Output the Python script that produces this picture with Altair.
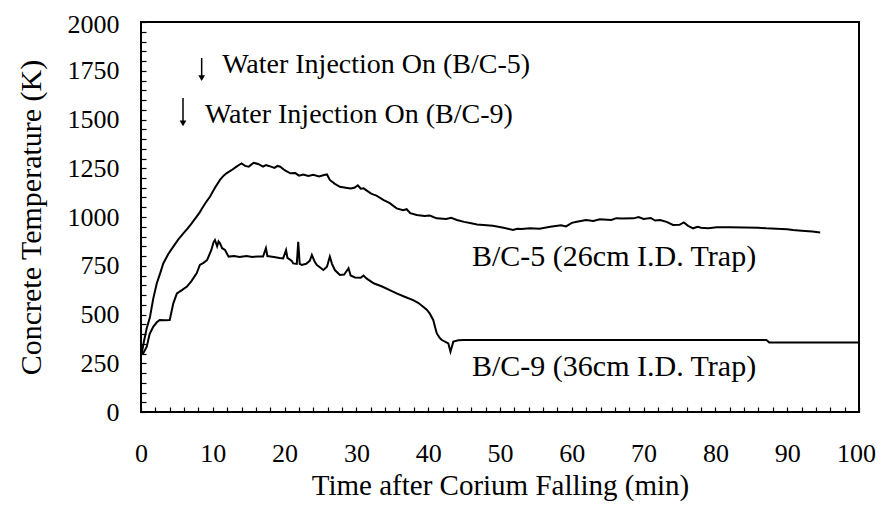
import altair as alt
import pandas as pd

# ---- data ----
bc5_t = [0.1, 0.4, 0.8, 1.25, 1.7, 2.2, 2.7, 3.1, 3.8, 4.5, 5.2, 5.9, 6.5, 7.0, 7.75, 8.2, 8.6, 9.1, 9.6,
         10.3, 11.0, 11.5, 11.9, 12.6, 13.3, 13.7, 14.0, 14.5, 15.0, 15.4, 15.7, 16.3, 17.0, 17.4, 17.8,
         18.6, 19.0, 19.4, 20.0, 20.8, 21.5, 22.0, 22.6, 23.3, 24.0, 24.8, 25.5, 25.9, 26.3, 27.0, 27.7,
         28.5, 29.2, 29.7, 30.2, 30.6, 31.0, 32.0, 32.4, 32.8, 33.8, 34.6, 35.6, 36.5, 37.0, 37.5, 38.4,
         39.5, 40.2, 40.7, 41.2, 42.5, 43.2, 44.0, 45.0, 46.0, 46.8, 47.7, 49.0, 50.5, 51.8, 52.4, 53.0,
         54.2, 55.5, 57.0, 58.5, 59.2, 60.0, 60.7, 62.0, 63.0, 63.9, 65.5, 66.2, 67.0, 68.6, 69.3, 70.0,
         71.0, 71.6, 72.3, 73.2, 74.1, 75.0, 75.6, 76.2, 76.9, 77.5, 78.0, 79.0, 80.2, 82.0, 84.0, 86.0,
         87.1, 88.5, 90.0, 90.8, 92.0, 93.5, 94.6]
bc5_v = [300, 360, 430, 487, 580, 660, 715, 762, 810, 848, 885, 916, 942, 965, 1002, 1025, 1050, 1078, 1104,
         1150, 1190, 1212, 1224, 1240, 1258, 1268, 1275, 1262, 1258, 1270, 1278, 1272, 1258, 1266, 1262,
         1252, 1262, 1258, 1240, 1224, 1225, 1212, 1218, 1210, 1216, 1208, 1215, 1218, 1190, 1170, 1155,
         1150, 1146, 1150, 1162, 1145, 1147, 1121, 1115, 1110, 1087, 1072, 1044, 1035, 1040, 1020, 1010,
         1005, 1008, 1000, 993, 990, 996, 985, 975, 968, 962, 959, 955, 945, 933, 940, 938,
         942, 940, 950, 958, 952, 970, 976, 985, 980, 988, 985, 994, 992, 993, 1000, 990,
         995, 982, 985, 975, 959, 960, 972, 955, 942, 950, 945, 942, 947, 948, 946, 945,
         942, 940, 937, 933, 930, 926, 921]

bc9_t = [0.0, 0.3, 0.8, 1.2, 1.7, 2.2, 2.6, 3.3, 4.0, 4.5, 5.0, 5.7, 6.4, 7.0, 7.75, 8.2, 8.7, 9.2, 9.8,
         10.1, 10.3, 10.6, 10.8, 11.0, 11.3, 11.7, 12.0, 12.2, 13.0, 13.7, 14.7, 15.5, 16.3, 17.0, 17.4,
         17.6, 18.5, 19.3, 19.8, 20.2, 20.4, 21.0, 21.2, 21.7, 21.9, 22.1, 22.4, 23.0, 23.5, 23.8, 24.2,
         24.5, 25.0, 25.4, 25.9, 26.3, 26.6, 27.0, 27.7, 28.3, 28.9, 29.2, 29.8, 30.6, 31.0, 31.4, 32.4,
         33.5, 34.5, 35.6, 36.8, 37.9, 38.6, 39.3, 39.8, 40.2, 40.7, 41.0, 41.2, 41.6, 41.9, 42.4, 42.8,
         43.1, 43.5, 44.2, 44.9, 50.0, 60.0, 70.0, 80.0, 87.1, 87.5, 100.0]
bc9_v = [310, 300, 335, 400, 437, 460, 472, 470, 472, 557, 608, 625, 643, 670, 711, 754, 765, 779, 831,
         870, 882, 850, 875, 865, 840, 831, 810, 797, 800, 795, 800, 795, 798, 797, 840,
         800, 795, 790, 788, 830, 790, 775, 762, 760, 873, 760, 754, 760, 775, 805, 770,
         754, 740, 728, 745, 797, 760, 728, 703, 705, 737, 700, 690, 688, 700, 685, 660,
         645, 628, 608, 590, 574, 560, 540, 525, 506, 472, 430, 403, 380, 369, 360, 352,
         309, 361, 368, 369, 369, 369, 369, 369, 369, 357, 357]

x_ticks = list(range(0, 101, 2))
y_ticks = list(range(0, 2001, 50))

annot_text = ["Water Injection On (B/C-5)", "Water Injection On (B/C-9)"]
annot_t = [11.3, 8.9]
annot_v = [1779, 1523]

curve_text = ["B/C-5 (26cm I.D. Trap)", "B/C-9 (36cm I.D. Trap)"]
curve_t = [46.1, 46.1]
curve_v = [795, 231]

arrow_t = [8.45, 5.85]
arrow_top = [1815, 1610]
arrow_tip = [1712, 1480]

FONT = "Liberation Serif"

lines = pd.DataFrame({
    "t": bc5_t + bc9_t,
    "v": bc5_v + bc9_v,
    "s": ["B/C-5"] * len(bc5_t) + ["B/C-9"] * len(bc9_t),
})
annots = pd.DataFrame({"t": annot_t, "v": annot_v, "label": annot_text})
curve_labels = pd.DataFrame({"t": curve_t, "v": curve_v, "label": curve_text})
arrows = pd.DataFrame({"t": arrow_t, "v": arrow_top, "v2": arrow_tip})
tips = pd.DataFrame({"t": arrow_t, "v": arrow_tip})

xscale = alt.Scale(domain=[0, 100], nice=False, zero=False)
yscale = alt.Scale(domain=[0, 2000], nice=False)

xaxis = alt.Axis(values=x_ticks, labelExpr="datum.value % 10 === 0 ? datum.label : ''",
                 title="Time after Corium Falling (min)", domain=False, offset=-5, tickSize=5,
                 tickColor="black", tickWidth=1.2, labelPadding=28, labelFontSize=26,
                 labelOffset={"condition": {"test": "datum.value === 100", "value": -3}, "value": 0},
                 labelFont=FONT, labelColor="black", titleFont=FONT, titleFontSize=29,
                 titleFontWeight="normal", titleColor="black", titlePadding=5, grid=False,
                 labelFlush=False)
yaxis = alt.Axis(values=y_ticks, labelExpr="datum.value % 250 === 0 ? datum.label : ''",
                 format="d", title="Concrete Temperature (K)", domain=False, offset=-5, tickSize=5,
                 tickColor="black", tickWidth=1.2, labelPadding=22, labelFontSize=26,
                 labelOffset={"condition": {"test": "datum.value === 2000", "value": 2}, "value": 0},
                 labelFont=FONT, labelColor="black", titleFont=FONT, titleFontSize=30,
                 titleFontWeight="normal", titleColor="black", titlePadding=21, grid=False,
                 labelFlush=False)

X = alt.X("t:Q", scale=xscale, axis=xaxis)
Y = alt.Y("v:Q", scale=yscale, axis=yaxis)

line_layer = alt.Chart(lines).mark_line(color="black", strokeWidth=2).encode(
    x=X, y=Y, detail="s:N"
)

arrow_layer = alt.Chart(arrows).mark_rule(color="black", strokeWidth=1.5).encode(
    x=X, y=Y, y2="v2:Q"
)
tip_layer = alt.Chart(tips).mark_point(shape="triangle-down", filled=True, color="black",
                                       size=45, opacity=1).encode(x=X, y=Y)

annot_layer = alt.Chart(annots).mark_text(align="left", baseline="middle", font=FONT,
                                          fontSize=28, color="black").encode(
    x=X, y=Y, text="label:N"
)
curve_label_layer = alt.Chart(curve_labels).mark_text(align="left", baseline="middle", font=FONT,
                                                      fontSize=30, color="black").encode(
    x=X, y=Y, text="label:N"
)

chart = (line_layer + arrow_layer + tip_layer + annot_layer + curve_label_layer).properties(
    width=718, height=390,
    background="white",
    autosize=alt.AutoSizeParams(type="none"),
    padding={"left": 133, "top": 14, "right": 17, "bottom": 91},
).configure_view(stroke="black", strokeWidth=2)

chart.save("out.html", embed_options={"renderer": "svg", "actions": False})
